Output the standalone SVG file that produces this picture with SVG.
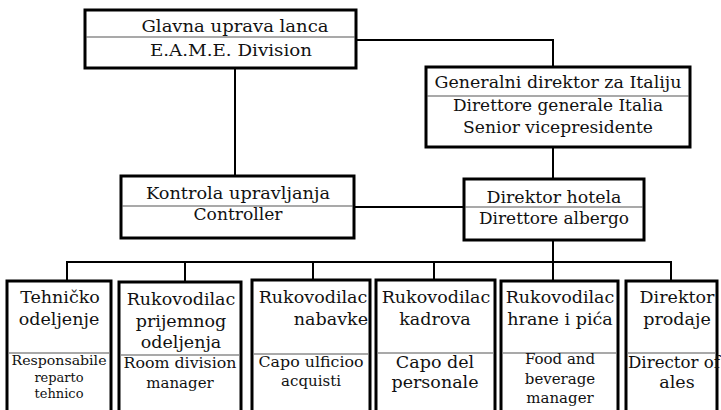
<svg xmlns="http://www.w3.org/2000/svg" width="721" height="410" viewBox="0 0 721 410">
  <style>
    .box { fill: #fff; stroke: #000; stroke-width: 3; }
    .sep { stroke: #555; stroke-width: 1.2; }
    .wire { fill: none; stroke: #000; stroke-width: 2; }
    text { font-family: "DejaVu Serif", "Liberation Serif", serif; fill: #111; text-anchor: middle; }
    .t16 { font-size: 16.5px; }
    .t17 { font-size: 17.5px; }
    .t14 { font-size: 15px; }
    .t13 { font-size: 13px; }
  </style>
  <rect width="721" height="410" fill="#fff"/>

  <!-- connectors -->
  <g id="connectors">
    <polyline class="wire" points="356,40 553,40 553,67"/>
    <line class="wire" x1="235" y1="68" x2="235" y2="176"/>
    <line class="wire" x1="553" y1="147" x2="553" y2="179"/>
    <line class="wire" x1="354" y1="207" x2="464" y2="207"/>
    <line class="wire" x1="553" y1="240" x2="553" y2="281"/>
    <polyline class="wire" points="67,281 67,262 671,262 671,281"/>
    <line class="wire" x1="185" y1="262" x2="185" y2="282"/>
    <line class="wire" x1="313" y1="262" x2="313" y2="280"/>
    <line class="wire" x1="434" y1="262" x2="434" y2="280"/>
  </g>

  <!-- head office -->
  <g id="glavna">
    <rect class="box" x="85" y="10" width="271" height="58"/>
    <line class="sep" x1="86" y1="37" x2="355" y2="37"/>
    <text class="t16" x="235" y="32" textLength="187" lengthAdjust="spacingAndGlyphs">Glavna uprava lanca</text>
    <text class="t16" x="231" y="56" textLength="162" lengthAdjust="spacingAndGlyphs">E.A.M.E. Division</text>
  </g>

  <g id="generalni">
    <rect class="box" x="426" y="67" width="264" height="80"/>
    <line class="sep" x1="427" y1="96" x2="689" y2="96"/>
    <text class="t16" x="558" y="88" textLength="247" lengthAdjust="spacingAndGlyphs">Generalni direktor za Italiju</text>
    <text class="t16" x="558" y="111" textLength="210" lengthAdjust="spacingAndGlyphs">Direttore generale Italia</text>
    <text class="t16" x="558" y="133" textLength="190" lengthAdjust="spacingAndGlyphs">Senior vicepresidente</text>
  </g>

  <g id="kontrola">
    <rect class="box" x="121" y="176" width="233" height="62"/>
    <line class="sep" x1="122" y1="206" x2="353" y2="206"/>
    <text class="t16" x="238" y="199" textLength="184" lengthAdjust="spacingAndGlyphs">Kontrola upravljanja</text>
    <text class="t16" x="238" y="220" textLength="89" lengthAdjust="spacingAndGlyphs">Controller</text>
  </g>

  <g id="direktor-hotela">
    <rect class="box" x="464" y="179" width="180" height="61"/>
    <line class="sep" x1="465" y1="207" x2="643" y2="207"/>
    <text class="t16" x="554" y="203" textLength="135" lengthAdjust="spacingAndGlyphs">Direktor hotela</text>
    <text class="t16" x="554" y="224" textLength="150" lengthAdjust="spacingAndGlyphs">Direttore albergo</text>
  </g>

  <!-- departments -->
  <g id="tehnicko">
    <rect class="box" x="7" y="281" width="104" height="135" stroke-width="4"/>
    <line class="sep" x1="9" y1="353" x2="109" y2="353"/>
    <text class="t17" x="60" y="303">Tehničko</text>
    <text class="t17" x="59" y="325">odeljenje</text>
    <text class="t13" x="59" y="365" textLength="95" lengthAdjust="spacingAndGlyphs">Responsabile</text>
    <text class="t13" x="59" y="382">reparto</text>
    <text class="t13" x="59" y="398">tehnico</text>
  </g>

  <g id="prijem">
    <rect class="box" x="119" y="282" width="122" height="134" stroke-width="4"/>
    <line class="sep" x1="121" y1="355" x2="239" y2="355"/>
    <text class="t17" x="181" y="305">Rukovodilac</text>
    <text class="t17" x="181" y="327">prijemnog</text>
    <text class="t17" x="181" y="348">odeljenja</text>
    <text class="t14" x="180" y="368" textLength="113" lengthAdjust="spacingAndGlyphs">Room division</text>
    <text class="t14" x="180" y="388">manager</text>
  </g>

  <g id="nabavka">
    <rect class="box" x="252" y="280" width="118" height="136" stroke-width="4"/>
    <line class="sep" x1="254" y1="354" x2="368" y2="354"/>
    <text class="t17" x="313" y="303">Rukovodilac</text>
    <text class="t17" x="368" y="325" style="text-anchor:end">nabavke</text>
    <text class="t14" x="311" y="367" textLength="105" lengthAdjust="spacingAndGlyphs">Capo ulficioo</text>
    <text class="t14" x="311" y="386">acquisti</text>
  </g>

  <g id="kadrovi">
    <rect class="box" x="376" y="280" width="119" height="136" stroke-width="4"/>
    <line class="sep" x1="378" y1="353" x2="493" y2="353"/>
    <text class="t17" x="436" y="303">Rukovodilac</text>
    <text class="t17" x="435" y="325">kadrova</text>
    <text class="t17" x="435" y="368">Capo del</text>
    <text class="t17" x="435" y="388">personale</text>
  </g>

  <g id="hrana">
    <rect class="box" x="501" y="281" width="117" height="135" stroke-width="4"/>
    <line class="sep" x1="503" y1="353" x2="616" y2="353"/>
    <text class="t17" x="560" y="303">Rukovodilac</text>
    <text class="t17" x="560" y="325">hrane i pića</text>
    <text class="t14" x="560" y="364">Food and</text>
    <text class="t14" x="560" y="384">beverage</text>
    <text class="t14" x="560" y="403">manager</text>
  </g>

  <g id="prodaja">
    <rect class="box" x="626" y="281" width="91" height="135" stroke-width="4"/>
    <line class="sep" x1="628" y1="353" x2="715" y2="353"/>
    <text class="t17" x="677" y="303">Direktor</text>
    <text class="t17" x="677" y="325">prodaje</text>
    <text x="628" y="368" style="text-anchor:start;font-size:16.5px" textLength="92" lengthAdjust="spacingAndGlyphs">Director of</text>
    <text class="t17" x="677" y="388">ales</text>
  </g>
</svg>
